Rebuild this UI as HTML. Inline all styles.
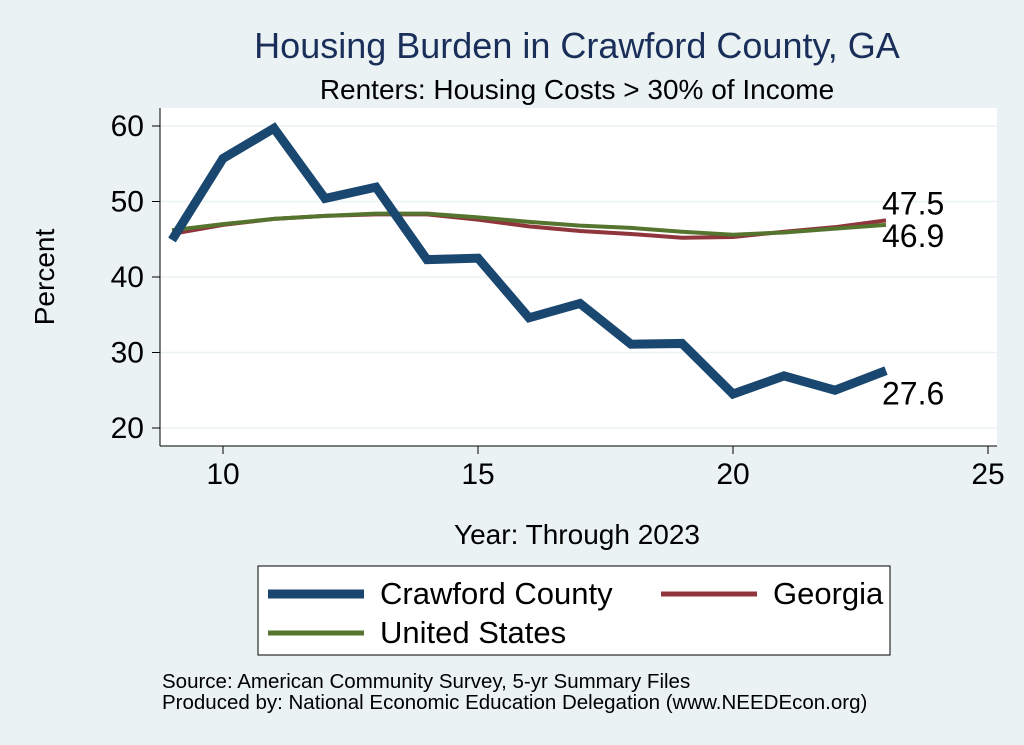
<!DOCTYPE html>
<html><head><meta charset="utf-8"><style>
body{margin:0;background:#eaf2f3;}
svg{display:block;font-family:"Liberation Sans",Arial,sans-serif;}
</style></head><body>
<svg width="1024" height="745">
<rect x="0" y="0" width="1024" height="745" fill="#eaf2f3"/>
<text x="577" y="58" text-anchor="middle" font-size="36" fill="#1a2e5a">Housing Burden in Crawford County, GA</text>
<text x="577" y="99" text-anchor="middle" font-size="28" fill="#000">Renters: Housing Costs &gt; 30% of Income</text>
<rect x="160" y="108" width="837" height="338" fill="#fff"/>
<g id="grid"></g>
<g id="axes"></g>
<g id="series"></g>
<text x="54" y="277" text-anchor="middle" font-size="28" transform="rotate(-90 54 277)">Percent</text>
<text x="577" y="544" text-anchor="middle" font-size="28">Year: Through 2023</text>
<g>
<rect x="258" y="566" width="632" height="89" fill="#fff" stroke="#000" stroke-width="1"/>
<g><line x1="268" y1="594" x2="364" y2="594" stroke="#1a476f" stroke-width="9"/><text x="380" y="604" font-size="31">Crawford County</text></g>
<g><line x1="661" y1="594" x2="757" y2="594" stroke="#90353b" stroke-width="5"/><text x="773" y="604" font-size="31">Georgia</text></g>
<g><line x1="268" y1="633" x2="364" y2="633" stroke="#55752f" stroke-width="5"/><text x="380" y="643" font-size="31">United States</text></g>
</g>
<text x="162" y="688" font-size="20.5">Source: American Community Survey, 5-yr Summary Files</text>
<text x="162" y="709" font-size="20.5">Produced by: National Economic Education Delegation (www.NEEDEcon.org)</text>
</svg>
<script>
const years=[9,10,11,12,13,14,15,16,17,18,19,20,21,22,23];
const crawford=[44.9,55.7,59.7,50.4,51.9,42.3,42.5,34.6,36.5,31.1,31.2,24.5,26.9,25.0,27.6];
const georgia=[45.7,46.9,47.7,48.1,48.3,48.3,47.6,46.7,46.1,45.7,45.2,45.3,46.0,46.6,47.5];
const unitedStates=[46.2,47.0,47.7,48.1,48.4,48.4,47.9,47.3,46.8,46.5,46.0,45.6,45.9,46.4,46.9];
const xTicks=[10,15,20,25];
const yTicks=[20,30,40,50,60];
const NS="http://www.w3.org/2000/svg";
function xs(v){return 223+(v-10)*51;}
function ys(v){return 428-(v-20)*7.55;}
function mk(tag,attrs,parent){const e=document.createElementNS(NS,tag);for(const k in attrs)e.setAttribute(k,attrs[k]);document.getElementById(parent).appendChild(e);return e;}
yTicks.forEach(t=>{
 let g=mk('line',{x1:160,x2:997,y1:ys(t),y2:ys(t),stroke:'#eaf2f3','stroke-width':1.5},'grid');
 
 
 let tk=mk('line',{x1:152,x2:160,y1:ys(t),y2:ys(t),stroke:'#000'},'axes');
 
 
 let tx=mk('text',{x:144,y:ys(t)+10,'text-anchor':'end','font-size':30},'axes');tx.textContent=t;
 
 
});
xTicks.forEach(t=>{
 let tk=mk('line',{x1:xs(t),x2:xs(t),y1:446,y2:454,stroke:'#000'},'axes');
 
 
 let tx=mk('text',{x:xs(t),y:484,'text-anchor':'middle','font-size':30},'axes');tx.textContent=t;
 
 
});
let ax=mk('line',{x1:160,x2:160,y1:108,y2:446,stroke:'#000'},'axes');


let ax2=mk('line',{x1:160,x2:997,y1:446,y2:446,stroke:'#000'},'axes');


function line(vals,color,w,name){
 const d=vals.map((v,i)=>(i?'L':'M')+xs(years[i])+','+ys(v)).join(' ');
 const p=mk('path',{d:d,fill:'none',stroke:color,'stroke-width':w,'stroke-linejoin':'miter'},'series');
 
 
}
line(georgia,'#90353b',4,'georgia-line');
line(unitedStates,'#55752f',4,'united-states-line');
line(crawford,'#1a476f',9,'crawford-line');
const n=years.length-1;
function lab(v,dy,name){
 const t=mk('text',{x:xs(years[n])-4,y:ys(v)+dy,'font-size':32},'series');t.textContent=v.toFixed(1);
 
 
}
lab(georgia[n],-6,'georgia-end-label');
lab(unitedStates[n],22,'us-end-label');
lab(crawford[n],34,'crawford-end-label');
</script>
</body></html>
